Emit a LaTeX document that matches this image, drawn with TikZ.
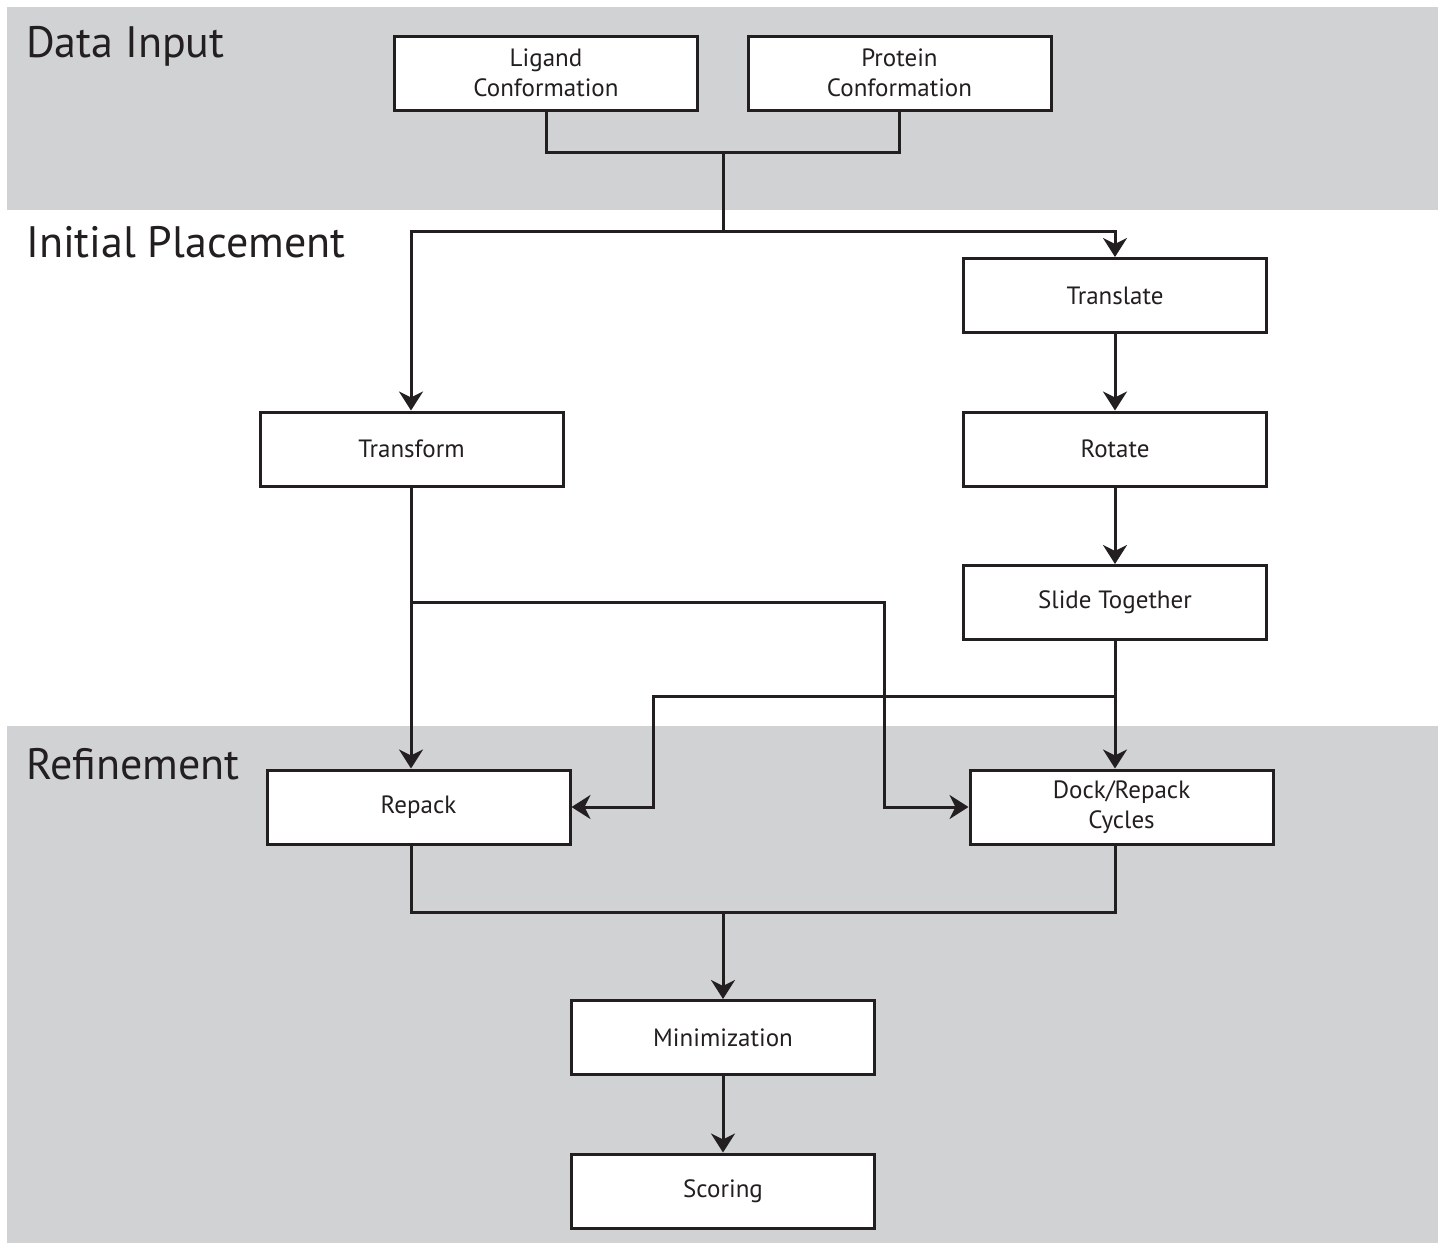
\documentclass[tikz,border=0pt]{standalone}
\usepackage{fontspec}
\setmainfont{PT Sans}
\usetikzlibrary{arrows.meta}
\definecolor{bandgray}{HTML}{D1D2D4}
\definecolor{ink}{HTML}{231F20}
\begin{document}
\begin{tikzpicture}[x=1pt,y=-1pt,
  box/.style={draw=ink, fill=white, line width=3pt, minimum width=303pt, minimum height=74pt,
    inner sep=0pt, align=center, font=\fontsize{25}{30}\selectfont, text=ink},
  conn/.style={draw=ink, line width=3pt},
  arr/.style={conn, -{Stealth[length=19pt,width=24pt,inset=6pt]}},
  title/.style={anchor=base west, font=\fontsize{44}{50}\selectfont, text=ink, inner sep=0pt}]
\useasboundingbox (0,0) rectangle (1443,1243);
\fill[white] (0,0) rectangle (1443,1243);
\fill[bandgray] (7,7) rectangle (1438,210);
\fill[bandgray] (7,726) rectangle (1438,1243);

\node[title] (tdata) at (26,57) {Data Input};
\node[title] (tinit) at (26,257) {Initial Placement};
\node[title] (tref) at (26,779) {Refinement};

\node[box] (lig) at (546,73) {Ligand\\Conformation};
\node[box] (prot) at (899.5,73) {Protein\\Conformation};
\node[box] (trans) at (1115,295.5) {Translate};
\node[box] (tform) at (411.5,449) {Transform};
\node[box] (rot) at (1115,449) {Rotate};
\node[box] (slide) at (1115,602.5) {Slide Together};
\node[box] (rep) at (418.5,807) {Repack};
\node[box] (dock) at (1121.5,807) {Dock/Repack\\Cycles};
\node[box] (mini) at (723,1037.5) {Minimization};
\node[box] (score) at (723,1191) {Scoring};

\coordinate (j1) at (723,152);
\coordinate (j2) at (723,231);
\coordinate (b1) at (411,602);
\coordinate (b2) at (1115,696);
\coordinate (j3) at (723,912);

% data input merge
\draw[conn] (lig.south) |- (j1) -| (prot.south);
\draw[conn] (j1) -- (j2);
\draw[arr] (j2) -| (tform.north -| b1);
\draw[arr] (j2) -| (trans.north);
% right column
\draw[arr] (trans) -- (rot);
\draw[arr] (rot) -- (slide);
\draw[arr] (slide.south) -- (dock.north -| b2);
% transform down
\draw[arr] (tform.south -| b1) -- (rep.north -| b1);
\draw[arr] (b1) -| (884,807) -- (dock.west);
\draw[arr] (b2) -| (653,807) -- (rep.east);
% merge to minimization
\draw[conn] (rep.south -| b1) |- (j3) -| (dock.south -| b2);
\draw[arr] (j3) -- (mini.north);
\draw[arr] (mini) -- (score);
\end{tikzpicture}
\end{document}
